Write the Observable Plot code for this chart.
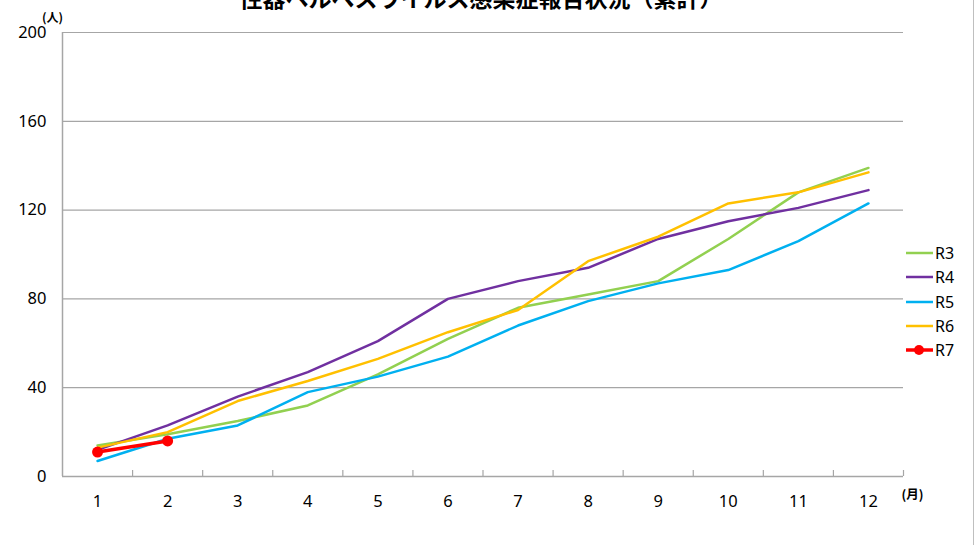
<!DOCTYPE html>
<html>
<head>
<meta charset="utf-8">
<script src="https://cdn.jsdelivr.net/npm/d3@7"></script>
<script src="https://cdn.jsdelivr.net/npm/@observablehq/plot@0.6"></script>
<style>
  body { margin: 0; background: #fff; }
  #wrap { position: relative; width: 979px; height: 545px; overflow: hidden; font-family: "Noto Sans", "Noto Sans CJK JP", sans-serif; }
  #border { position: absolute; left: 973px; top: 0; width: 1px; height: 545px; background: #BFBFBF; }
  #legend { position: absolute; left: 906px; top: 241px; font-size: 16px; color: #000; }
  .item { display: flex; align-items: center; height: 24.3px; }
  .item svg { margin-right: 2px; }
</style>
</head>
<body>
<div id="wrap"><div id="border"></div><div id="legend"></div></div>
<script>
const title = "性器ヘルペスウイルス感染症報告状況（累計）";
const months = [1,2,3,4,5,6,7,8,9,10,11,12];
const seriesNames = ["R3","R4","R5","R6","R7"];
const colors = ["#92D050","#7030A0","#00B0F0","#FFC000","#FF0000"];
const R3 = [14, 19, 25, 32, 46, 62, 76, 82, 88, 107, 128, 139];
const R4 = [12, 23, 36, 47, 61, 80, 88, 94, 107, 115, 121, 129];
const R5 = [7, 17, 23, 38, 45, 54, 68, 79, 87, 93, 106, 123];
const R6 = [13, 20, 34, 43, 53, 65, 75, 97, 108, 123, 128, 137];
const R7 = [11, 16];
const yTicks = [0, 40, 80, 120, 160, 200];
const yUnit = "(人)";
const xUnit = "(月)";

const values = [R3, R4, R5, R6, R7];
const rows = [];
values.forEach((vals, si) => vals.forEach((v, i) => rows.push({series: seriesNames[si], month: months[i], value: v})));
const boundaries = months.map(m => m + 0.5);
const font = '"Noto Sans", "Noto Sans CJK JP", sans-serif';
const cjk = '"Noto Sans CJK JP", sans-serif';

const chart = Plot.plot({
  width: 979,
  height: 545,
  marginLeft: 62,
  marginRight: 76,
  marginTop: 32,
  marginBottom: 69,
  style: {fontFamily: font, fontSize: "16px", color: "#000", background: "transparent"},
  x: {domain: [0.5, 12.5], axis: null},
  y: {domain: [0, 200], axis: null},
  color: {domain: seriesNames, range: colors},
  marks: [
    Plot.ruleY(yTicks.filter(d => d > 0), {y: d => d, stroke: "#A6A6A6", strokeWidth: 1.2}),
    Plot.ruleY([0], {stroke: "#A6A6A6", strokeWidth: 1.5}),
    Plot.ruleX([0.5], {stroke: "#A6A6A6", strokeWidth: 1.5}),
    Plot.ruleX(boundaries, {x: d => d, y1: 0, y2: 0, insetBottom: 6, stroke: "#A6A6A6", strokeWidth: 1.2}),
    Plot.text(yTicks, {x: 0.5, y: d => d, text: d => String(d), textAnchor: "end", dx: -16, fontSize: 16.5, fill: "#000"}),
    Plot.text(months, {x: d => d, y: 0, text: d => String(d), dy: 25, fontSize: 16.5, fill: "#000"}),
    Plot.line(rows.filter(d => d.series !== "R7"), {x: "month", y: "value", stroke: "series", z: "series", strokeWidth: 2.5}),
    Plot.line(rows.filter(d => d.series === "R7"), {x: "month", y: "value", stroke: "series", strokeWidth: 3.5}),
    Plot.dot(rows.filter(d => d.series === "R7"), {x: "month", y: "value", fill: "series", r: 5.5}),
    Plot.text([yUnit], {frameAnchor: "top-left", textAnchor: "middle", lineAnchor: "bottom", dx: -10, dy: -11, fontSize: 12, fontWeight: "bold", fill: "#000", fontFamily: cjk}),
    Plot.text([xUnit], {frameAnchor: "bottom-right", textAnchor: "middle", lineAnchor: "middle", dx: 9, dy: 18, fontSize: 12.5, fontWeight: "bold", fill: "#000", fontFamily: cjk}),
    Plot.text([title], {frameAnchor: "top", textAnchor: "middle", lineAnchor: "bottom", dx: -2, dy: -26, fontSize: 23, fontWeight: "bold", fill: "#000", fontFamily: cjk})
  ]
});
chart.style.position = "absolute";
chart.style.left = "0px";
chart.style.top = "0px";
document.getElementById("wrap").prepend(chart);

const legend = document.getElementById("legend");
seriesNames.forEach((name, i) => {
  const item = document.createElement("div");
  item.className = "item";
  const dot = name === "R7" ? `<circle cx="13" cy="6" r="5" fill="${colors[i]}"/>` : "";
  const sw = name === "R7" ? 3.5 : 2.5;
  item.innerHTML = `<svg width="27" height="12"><line x1="0" x2="27" y1="6" y2="6" stroke="${colors[i]}" stroke-width="${sw}"/>${dot}</svg><span>${name}</span>`;
  legend.appendChild(item);
});
</script>
</body>
</html>
